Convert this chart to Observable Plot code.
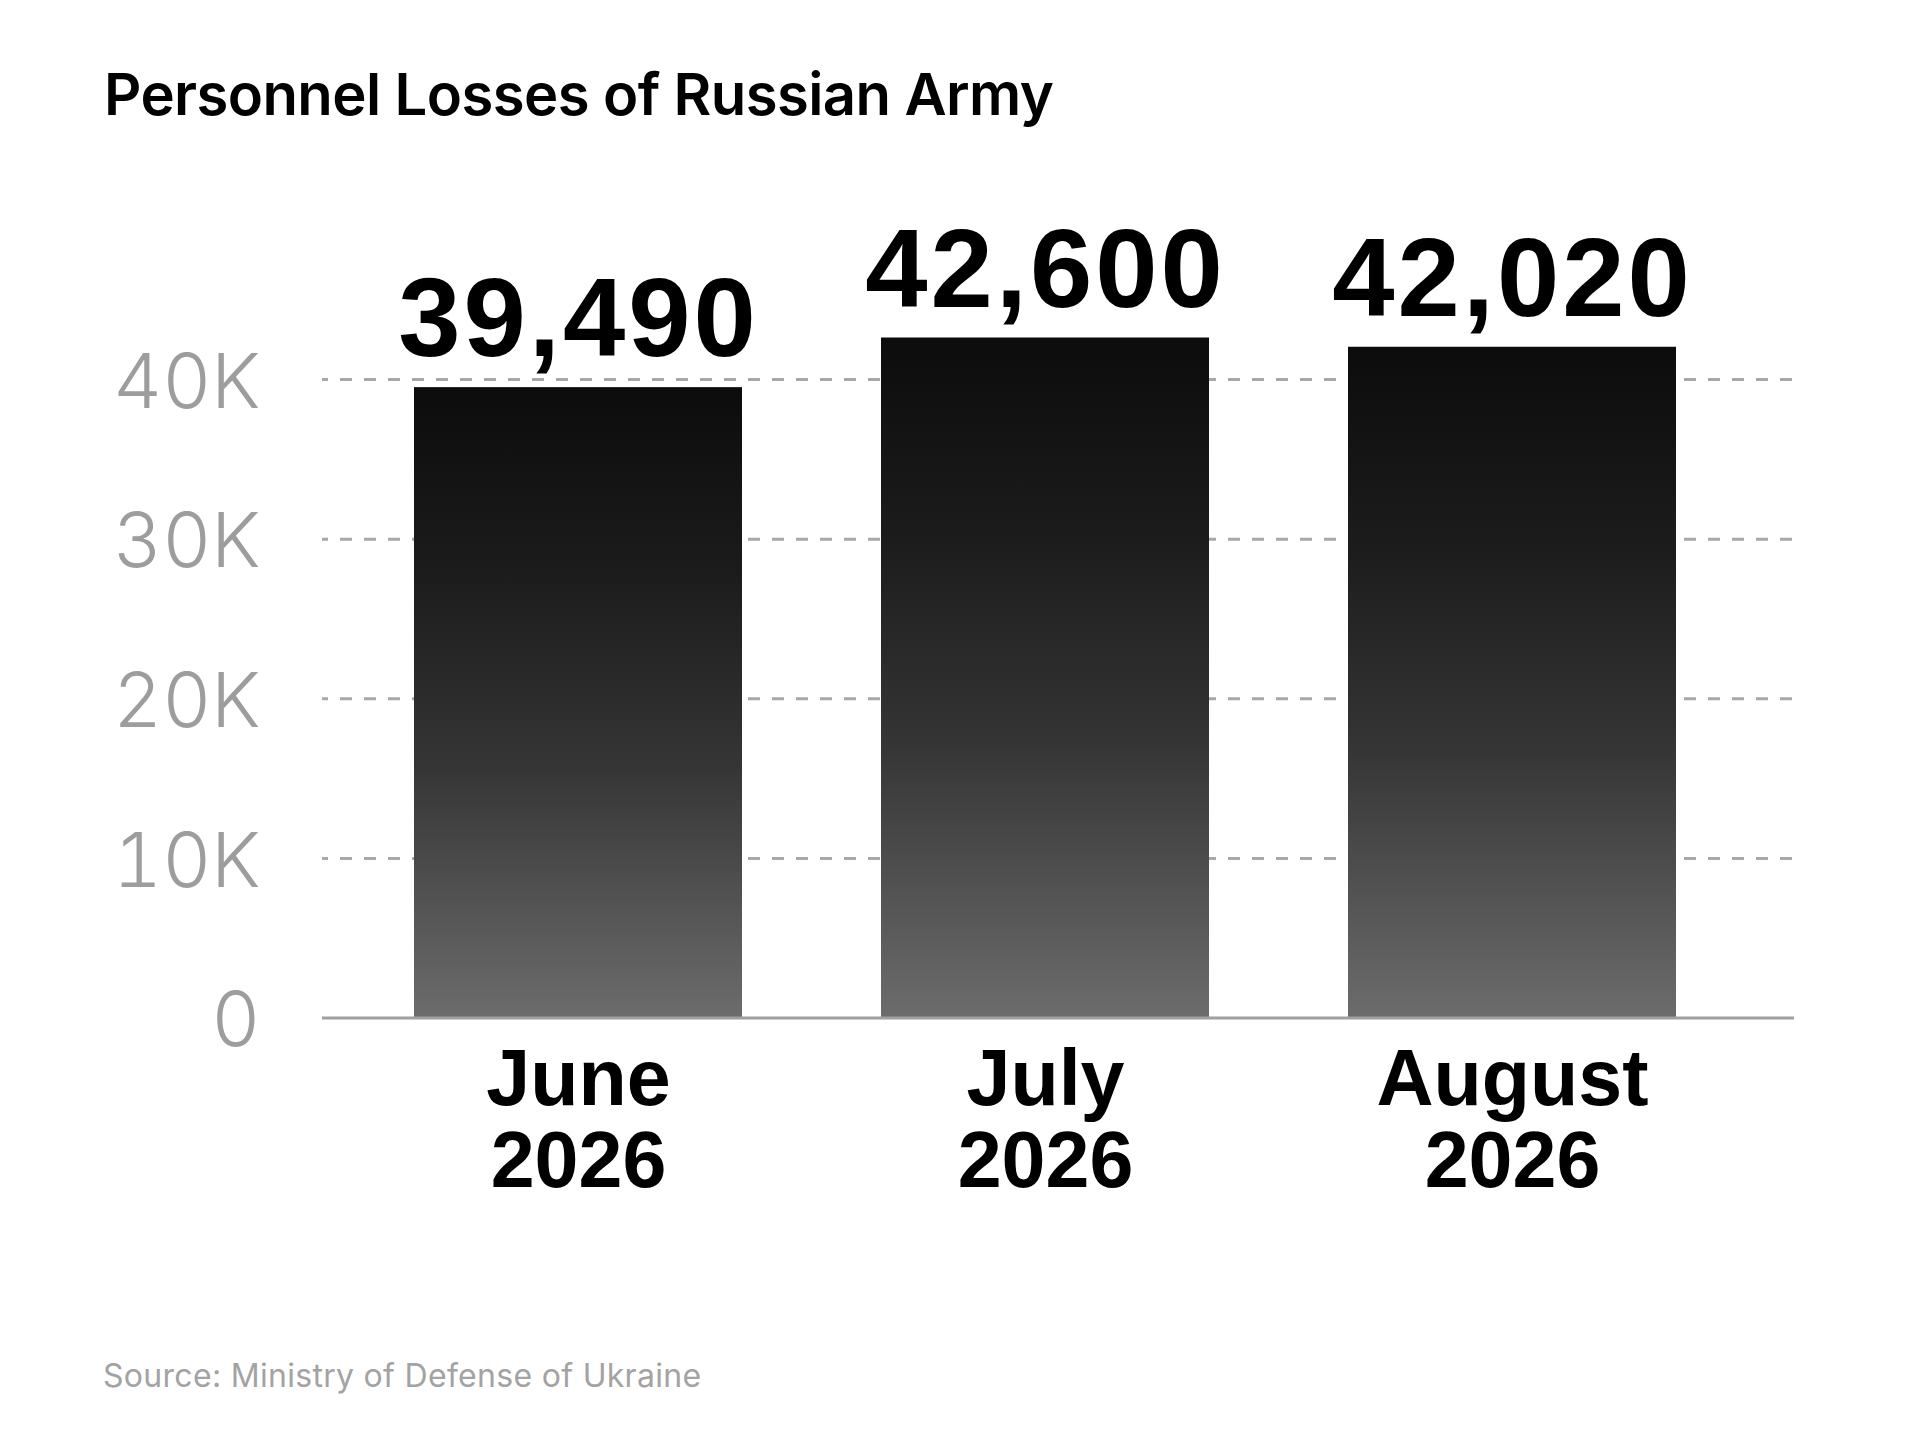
<!DOCTYPE html>
<html>
<head>
<meta charset="utf-8">
<script src="https://cdn.jsdelivr.net/npm/d3@7"></script>
<script src="https://cdn.jsdelivr.net/npm/@observablehq/plot@0.6"></script>
<style>
  html, body { margin: 0; padding: 0; background: #fff; }
  #wrap { position: relative; width: 1920px; height: 1440px; background: #fff; font-family: Inter, "Noto Sans", sans-serif; }
  #title { position: absolute; left: 104px; top: 65px; font-size: 58px; line-height: 58px; font-weight: 600; color: #000; letter-spacing: -0.6px; white-space: nowrap; }
  #chart { position: absolute; left: 0; top: 150px; }
  #source { position: absolute; left: 103px; top: 1360px; font-size: 32px; line-height: 32px; font-weight: 400; color: #a3a3a3; letter-spacing: 0.3px; white-space: nowrap; }
</style>
</head>
<body>
<div id="wrap">
  <div id="title">Personnel Losses of Russian Army</div>
  <div id="chart"></div>
  <div id="source">Source: Ministry of Defense of Ukraine</div>
</div>
<script>
// ---- data ----
const months = ["June", "July", "August"];
const years = ["2026", "2026", "2026"];
const losses = [39490, 42600, 42020];
const yTicks = [0, 10000, 20000, 30000, 40000];
const gridTicks = [10000, 20000, 30000, 40000];

const categories = months.map((m, i) => `${m}\n${years[i]}`);
const data = categories.map((c, i) => ({cat: c, value: losses[i]}));

const defs = () => {
  const d = d3.create("svg:defs");
  const g = d.append("linearGradient").attr("id", "barGrad")
    .attr("x1", 0).attr("y1", 0).attr("x2", 0).attr("y2", 1);
  g.append("stop").attr("offset", "0%").attr("stop-color", "#0c0c0c");
  g.append("stop").attr("offset", "30%").attr("stop-color", "#1c1c1c");
  g.append("stop").attr("offset", "60%").attr("stop-color", "#353535");
  g.append("stop").attr("offset", "100%").attr("stop-color", "#6c6c6c");
  return d.node();
};

const boldFont = "'Liberation Sans', Arial, sans-serif";

const chart = Plot.plot({
  width: 1920,
  height: 1200,
  marginLeft: 322,
  marginRight: 126,
  marginTop: 0,
  marginBottom: 332.5,
  style: {fontFamily: "Inter, 'Noto Sans', sans-serif", background: "transparent", overflow: "visible"},
  x: {domain: categories, range: [414, 1676], paddingInner: 0.298, paddingOuter: 0, axis: null, label: null},
  y: {domain: [0, 40000], range: [867.5, 229], axis: null, label: null},
  marks: [
    defs,
    Plot.ruleY(gridTicks, {stroke: "#a8a8a8", strokeWidth: 3, strokeDasharray: "12,12", strokeDashoffset: 6}),
    Plot.barY(data, {x: "cat", y: "value", fill: "url(#barGrad)"}),
    Plot.ruleY([0], {stroke: "#a0a0a0", strokeWidth: 3}),
    Plot.axisY({
      ticks: yTicks, tickSize: 0, tickPadding: 62,
      tickFormat: d => d === 0 ? "0" : `${d / 1000}K`,
      fontSize: 76, fontWeight: 300, fill: "#9d9d9d", dy: 4, label: null
    }),
    Plot.axisX({
      tickSize: 0, tickPadding: 29, fontSize: 79, fontWeight: 700, fill: "#000",
      fontFamily: boldFont, lineHeight: 1.04, label: null, tickFormat: d => d
    }),
    Plot.text(data, {
      x: "cat", y: "value", text: d => d3.format(",")(d.value),
      fontSize: 112, fontWeight: 700, fill: "#000", dy: -67,
      fontFamily: boldFont,
      render: (i, s, v, d, c, next) => { const g = next(i, s, v, d, c); g.setAttribute("letter-spacing", "3px"); return g; }
    })
  ]
});
document.getElementById("chart").appendChild(chart);
</script>
</body>
</html>
